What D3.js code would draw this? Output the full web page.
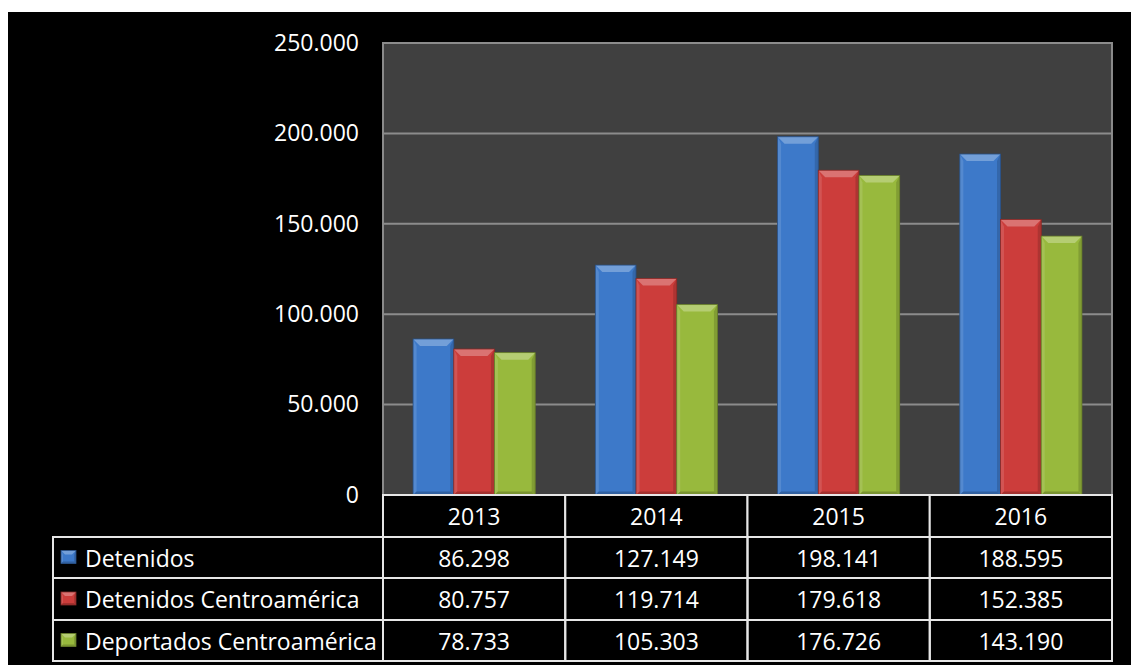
<!DOCTYPE html>
<html>
<head>
<meta charset="utf-8">
<script src="https://cdn.jsdelivr.net/npm/d3@7"></script>
<style>
  html, body { margin: 0; padding: 0; background: #ffffff; }
  svg { display: block; }
  text { font-family: "Open Sans", "DejaVu Sans", sans-serif; fill: #ffffff; }
</style>
</head>
<body>
<svg id="chart" width="1131" height="665"></svg>
<script>
// Years shown along the x axis and as table headers
const years = ["2013", "2014", "2015", "2016"];
// Series names and colours
const seriesNames = ["Detenidos", "Detenidos Centroamérica", "Deportados Centroamérica"];
const seriesColors = ["#3d79c9", "#cc3d3b", "#98b93d"];
// Values per series, in year order
const detenidos = [86298, 127149, 198141, 188595];
const detenidosCA = [80757, 119714, 179618, 152385];
const deportadosCA = [78733, 105303, 176726, 143190];
const seriesValues = [detenidos, detenidosCA, deportadosCA];
// Y axis ticks
const yTicks = [0, 50000, 100000, 150000, 200000, 250000];

const fmt = v => d3.format(",")(v).replace(/,/g, ".");

const svg = d3.select("#chart");

// dark canvas
svg.append("rect").attr("x", 8).attr("y", 12).attr("width", 1123).attr("height", 653).attr("fill", "#000000");

const plot = { left: 383, right: 1112, top: 43, bottom: 495 };

const x = d3.scaleBand().domain(years).range([plot.left, plot.right]).paddingInner(0.33).paddingOuter(0.165);
const xCol = d3.scaleBand().domain(years).range([plot.left, plot.right]);
const xs = d3.scaleBand().domain(d3.range(seriesNames.length)).range([0, x.bandwidth()]);
const y = d3.scaleLinear().domain([0, 250000]).range([plot.bottom, plot.top]);

// plot area
svg.append("rect")
  .attr("x", plot.left).attr("y", plot.top)
  .attr("width", plot.right - plot.left).attr("height", plot.bottom - plot.top)
  .attr("fill", "#404040").attr("stroke", "#8a8a8a").attr("stroke-width", 2);

// gridlines
svg.append("g").selectAll("line").data(yTicks.filter(t => t > 0)).join("line")
  .attr("x1", plot.left).attr("x2", plot.right)
  .attr("y1", d => y(d)).attr("y2", d => y(d))
  .attr("stroke", "#8c8c8c").attr("stroke-width", 2);

// y axis labels
const yAxis = d3.axisLeft(y).tickValues(yTicks).tickFormat(fmt).tickSize(0).tickPadding(0);
const gy = svg.append("g").attr("transform", `translate(${plot.left - 24},0)`).call(yAxis);
gy.select(".domain").remove();
gy.selectAll("text").attr("font-size", 23).attr("fill", "#ffffff")
  .style("font-family", "'Open Sans', sans-serif");

// beveled bar
function shade(c, k) { return k > 0 ? d3.interpolateRgb(c, "#ffffff")(k) : d3.interpolateRgb(c, "#000000")(-k); }
function bevelBar(g, bx, by, w, h, color, b) {
  const bb = Math.min(b, h / 2, w / 2);
  g.append("rect").attr("x", bx).attr("y", by).attr("width", w).attr("height", h).attr("fill", color);
  // left side
  g.append("polygon").attr("points", [[bx, by], [bx + bb * 0.5, by + bb], [bx + bb * 0.5, by + h - bb * 0.5], [bx, by + h]].join(" "))
    .attr("fill", shade(color, 0.12));
  // right side
  g.append("polygon").attr("points", [[bx + w, by], [bx + w - bb * 0.5, by + bb], [bx + w - bb * 0.5, by + h - bb * 0.5], [bx + w, by + h]].join(" "))
    .attr("fill", shade(color, -0.15));
  // bottom
  g.append("polygon").attr("points", [[bx, by + h], [bx + bb * 0.5, by + h - bb * 0.5], [bx + w - bb * 0.5, by + h - bb * 0.5], [bx + w, by + h]].join(" "))
    .attr("fill", shade(color, -0.2));
  // top
  g.append("polygon").attr("points", [[bx, by], [bx + w, by], [bx + w - bb, by + bb], [bx + bb, by + bb]].join(" "))
    .attr("fill", shade(color, 0.28));
  g.append("rect").attr("x", bx).attr("y", by).attr("width", w).attr("height", h)
    .attr("fill", "none").attr("stroke", shade(color, -0.35)).attr("stroke-width", 0.8);
}

const bars = svg.append("g");
seriesValues.forEach((vals, si) => {
  vals.forEach((v, yi) => {
    const bx = x(years[yi]) + xs(si);
    bevelBar(bars, bx, y(v), xs.bandwidth(), y(0) - y(v), seriesColors[si], 7);
  });
});

// data table
const rowTop = [495, 537, 578, 620, 661];
const tableLeft = 53;
const tbl = svg.append("g");
const lineColor = "#e6e6e6";

// header cells
years.forEach(yr => {
  tbl.append("rect").attr("x", xCol(yr)).attr("y", rowTop[0]).attr("width", xCol.bandwidth()).attr("height", rowTop[1] - rowTop[0])
    .attr("fill", "#000000").attr("stroke", lineColor).attr("stroke-width", 2);
  tbl.append("text").attr("x", xCol(yr) + xCol.bandwidth() / 2).attr("y", (rowTop[0] + rowTop[1]) / 2)
    .attr("text-anchor", "middle").attr("dominant-baseline", "central").attr("font-size", 23).text(yr);
});

seriesNames.forEach((name, si) => {
  const t = rowTop[si + 1], bt = rowTop[si + 2], mid = (t + bt) / 2;
  tbl.append("rect").attr("x", tableLeft).attr("y", t).attr("width", plot.left - tableLeft).attr("height", bt - t)
    .attr("fill", "#000000").attr("stroke", lineColor).attr("stroke-width", 2);
  const key = tbl.append("g");
  bevelBar(key, 61, mid - 7, 15, 13, seriesColors[si], 4);
  tbl.append("text").attr("x", 85).attr("y", mid).attr("dominant-baseline", "central").attr("font-size", 23).text(name);
  years.forEach((yr, yi) => {
    tbl.append("rect").attr("x", xCol(yr)).attr("y", t).attr("width", xCol.bandwidth()).attr("height", bt - t)
      .attr("fill", "none").attr("stroke", lineColor).attr("stroke-width", 2);
    tbl.append("text").attr("x", xCol(yr) + xCol.bandwidth() / 2).attr("y", mid)
      .attr("text-anchor", "middle").attr("dominant-baseline", "central").attr("font-size", 23)
      .text(fmt(seriesValues[si][yi]));
  });
});
</script>
</body>
</html>
